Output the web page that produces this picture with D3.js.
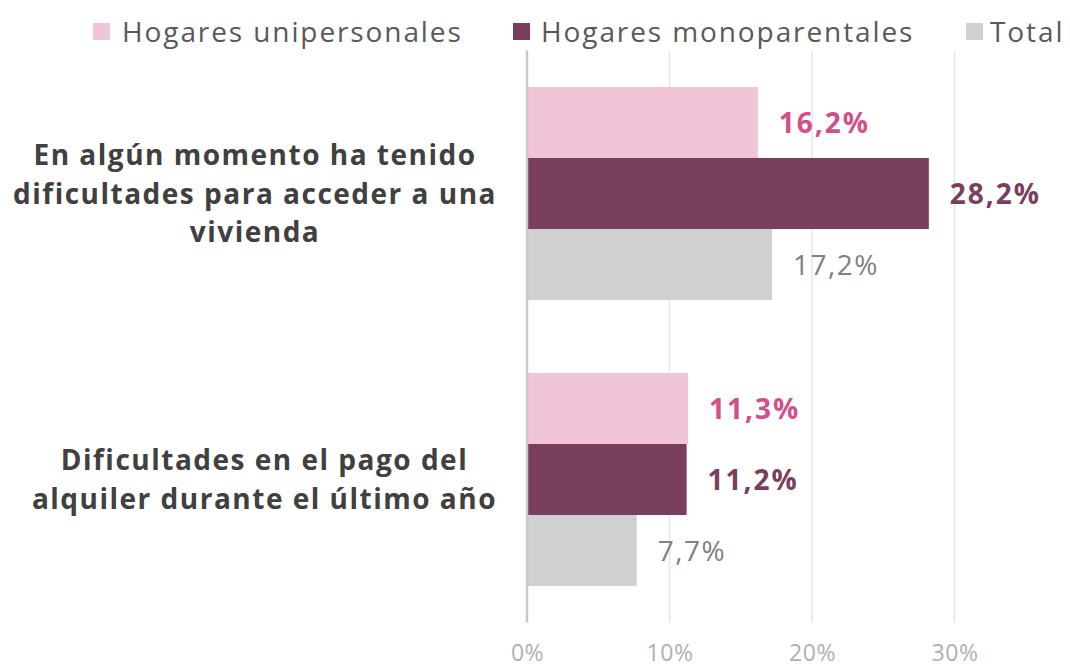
<!DOCTYPE html>
<html>
<head>
<meta charset="utf-8">
<script src="https://cdn.jsdelivr.net/npm/d3@7"></script>
<style>
  html, body { margin: 0; padding: 0; background: #fff; }
  svg { display: block; }
</style>
</head>
<body>
<svg id="chart" width="1070" height="667"></svg>
<script>
// ---- Data ----
const categories = [
  "En algún momento ha tenido dificultades para acceder a una vivienda",
  "Dificultades en el pago del alquiler durante el último año"
];
const categoryLines = [
  ["En algún momento ha tenido", "dificultades para acceder a una", "vivienda"],
  ["Dificultades en el pago del", "alquiler durante el último año"]
];
const seriesNames = ["Hogares unipersonales", "Hogares monoparentales", "Total"];
const unipersonales = [16.2, 11.3];
const monoparentales = [28.2, 11.2];
const total = [17.2, 7.7];
const tickValues = [0, 10, 20, 30];
const tickLabels = ["0%", "10%", "20%", "30%"];

const seriesValues = [unipersonales, monoparentales, total];
const colors = ["#F1C4D8", "#7B3F5E", "#D0D0D0"];
const labelColors = ["#D2508A", "#7B3F5E", "#808080"];
const labelWeights = ["700", "700", "400"];
const labelSpacing = [2, 2, 1.5];
const fmt = v => v.toFixed(1).replace(".", ",") + "%";

const FONT = "'Open Sans', 'Noto Sans', sans-serif";
const svg = d3.select("#chart");

const x = d3.scaleLinear().domain([0, 30]).range([527, 954.5]);
const y = d3.scaleBand().domain(categories).range([50.5, 622.5])
  .paddingInner(0.255).paddingOuter(0.1275);
const ys = d3.scaleBand().domain(seriesNames).range([0, y.bandwidth()]).padding(0);

// gridlines
const grid = svg.append("g");
grid.selectAll("line").data(tickValues.filter(d => d > 0)).join("line")
  .attr("x1", d => x(d)).attr("x2", d => x(d))
  .attr("y1", 50.5).attr("y2", 622.5)
  .attr("stroke", "#E6E6E6").attr("stroke-width", 1.5);

// bars
const rows = [];
categories.forEach((c, ci) => seriesNames.forEach((s, si) => rows.push({c, s, si, v: seriesValues[si][ci]})));

svg.append("g").selectAll("rect").data(rows).join("rect")
  .attr("x", x(0))
  .attr("y", d => y(d.c) + ys(d.s))
  .attr("width", d => x(d.v) - x(0))
  .attr("height", ys.bandwidth())
  .attr("fill", d => colors[d.si]);

// value labels
svg.append("g").selectAll("text").data(rows).join("text")
  .attr("x", d => x(d.v) + 21)
  .attr("y", d => y(d.c) + ys(d.s) + ys.bandwidth() / 2)
  .attr("dy", "0.36em")
  .attr("font-family", FONT)
  .attr("font-size", 28)
  .attr("letter-spacing", d => labelSpacing[d.si])
  .attr("font-weight", d => labelWeights[d.si])
  .attr("fill", d => labelColors[d.si])
  .text(d => fmt(d.v));

// zero axis line
svg.append("line")
  .attr("x1", x(0)).attr("x2", x(0))
  .attr("y1", 50.5).attr("y2", 622.5)
  .attr("stroke", "#C8C8C8").attr("stroke-width", 2.5);

// x axis tick labels
const xAxis = d3.axisBottom(x).tickValues(tickValues)
  .tickFormat((d, i) => tickLabels[i]).tickSize(0).tickPadding(0);
const gx = svg.append("g").attr("transform", "translate(0,640)").call(xAxis);
gx.select(".domain").remove();
gx.selectAll("text")
  .attr("font-family", FONT).attr("font-size", 23)
  .attr("letter-spacing", 0.5)
  .attr("fill", "#B0B0B0").attr("dy", "0.9em");

// category labels
const catG = svg.append("g");
categories.forEach((c, ci) => {
  const lines = categoryLines[ci];
  const lh = 38.5;
  const cy = y(c) + y.bandwidth() / 2;
  const t = catG.append("text")
    .attr("font-family", FONT).attr("font-size", 28).attr("font-weight", 700)
    .attr("letter-spacing", 1.5)
    .attr("fill", "#404040").attr("text-anchor", "middle");
  const spans = lines.map((l, li) => t.append("tspan")
    .attr("y", cy + (li - (lines.length - 1) / 2) * lh)
    .attr("dy", "0.36em").text(l));
  const maxW = d3.max(spans, s => s.node().getComputedTextLength());
  const cx = 497 - maxW / 2;
  spans.forEach(s => s.attr("x", cx));
});

// legend
const legendSq = [93, 513, 966];
const legendTx = [122, 541, 990];
const lg = svg.append("g");
seriesNames.forEach((s, i) => {
  lg.append("rect").attr("x", legendSq[i]).attr("y", 23).attr("width", 17).attr("height", 17)
    .attr("fill", colors[i]);
  lg.append("text").attr("x", legendTx[i]).attr("y", 32).attr("dy", "0.36em")
    .attr("font-family", FONT).attr("font-size", 28).attr("letter-spacing", 1.9)
    .attr("fill", "#595959").text(s);
});
</script>
</body>
</html>
